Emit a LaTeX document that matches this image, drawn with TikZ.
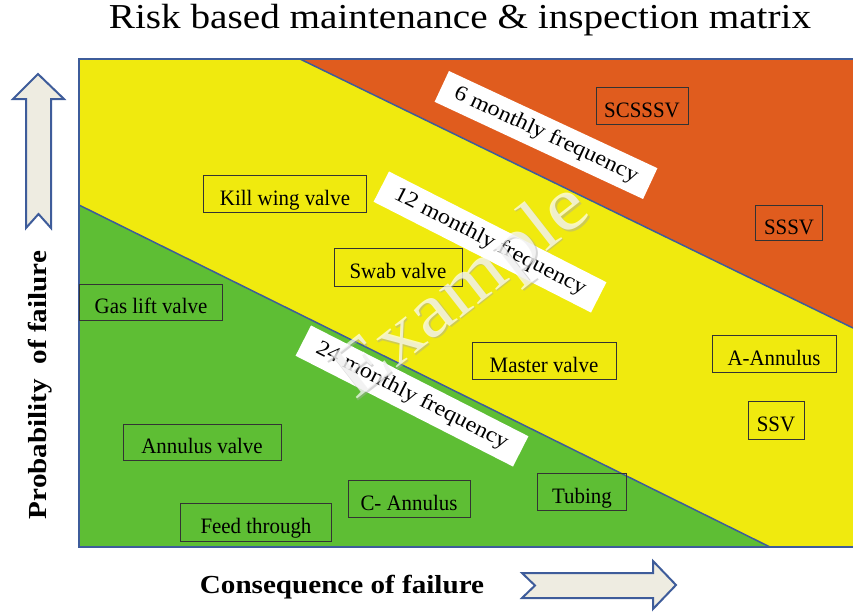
\documentclass[tikz,border=0pt]{standalone}
\usepackage{fontspec}
\setmainfont[FakeStretch=1.12]{Liberation Serif}
\newfontfamily\partfont[FakeStretch=0.95]{Liberation Serif}
\definecolor{riskyellow}{RGB}{240,234,14}
\definecolor{riskorange}{RGB}{224,92,30}
\definecolor{riskgreen}{RGB}{94,190,52}
\definecolor{frameblue}{RGB}{62,92,154}
\definecolor{arrowfill}{RGB}{238,236,225}
\tikzset{
  part/.style={draw=black!80, line width=0.8pt, inner sep=0pt, text height=22pt, text depth=0pt,
    font=\partfont\fontsize{22}{24}\selectfont},
  band/.style={fill=white, inner sep=0pt, minimum height=34pt, font=\fontsize{21.5}{23}\selectfont},
  bigarrow/.style={draw=frameblue, fill=arrowfill, line width=2pt, line join=miter}
}
\begin{document}
\begin{tikzpicture}[x=1pt, y=-1pt]
  \useasboundingbox (0,0) rectangle (853,611);
  % zones
  \fill[riskyellow] (79,59) rectangle (853,547);
  \fill[riskorange] (300,59) -- (853,59) -- (853,328) -- cycle;
  \fill[riskgreen] (79,205) -- (770,547) -- (79,547) -- cycle;
  \draw[frameblue, line width=1.5pt] (300,59) -- (853,328);
  \draw[frameblue, line width=1.5pt] (79,205) -- (770,547);
  \draw[frameblue, line width=2pt] (853,59) -- (79,59) -- (79,547) -- (853,547);

  % title and axes
  \node (title) at (460,20) {\fontsize{35}{38}\selectfont Risk based maintenance \& inspection matrix};
  \node[rotate=90, font=\fontsize{26}{28}\selectfont\bfseries] (prob) at (40,385) {Probability\ \ of failure};
  \node[font=\fontsize{26}{28}\selectfont\bfseries] (cons) at (342,587) {Consequence of failure};
  \draw[bigarrow] (38,74) -- (64,99) -- (51,99) -- (51,228) -- (38.5,214) -- (26,228) -- (26,99) -- (13,99) -- cycle;
  \draw[bigarrow] (676,585) -- (653,561) -- (653,573) -- (522,573) -- (535,585.5) -- (522,598) -- (653,598) -- (653,609) -- cycle;

  % frequency bands
  \node[band, rotate=-25, minimum width=230pt] (f6) at (546,135) {6 monthly frequency};
  \node[band, rotate=-27, minimum width=244pt] (f12) at (490,242) {12 monthly frequency};
  \node[band, rotate=-27, minimum width=244pt] (f24) at (412,396) {24 monthly frequency};

  % components
  \node[part, minimum width=92pt, minimum height=37pt] (scsssv) at (642,106) {SCSSSV};
  \node[part, minimum width=67pt, minimum height=35pt] (sssv) at (789,223) {SSSV};
  \node[part, minimum width=163pt, minimum height=37pt] (kill) at (285,194) {Kill wing valve};
  \node[part, minimum width=128pt, minimum height=38pt] (swab) at (398,267) {Swab valve};
  \node[part, minimum width=143pt, minimum height=36pt] (gaslift) at (151,302.5) {Gas lift valve};
  \node[part, minimum width=124pt, minimum height=37pt] (aann) at (774,354) {A-Annulus};
  \node[part, minimum width=56pt, minimum height=38pt] (ssv) at (776,420) {SSV};
  \node[part, minimum width=144pt, minimum height=37pt] (master) at (544,361) {Master valve};
  \node[part, minimum width=158pt, minimum height=36pt] (annv) at (202,442) {Annulus valve};
  \node[part, minimum width=89pt, minimum height=37pt] (tubing) at (582,492) {Tubing};
  \node[part, minimum width=122pt, minimum height=37pt] (cann) at (409,499) {C- Annulus};
  \node[part, minimum width=151pt, minimum height=38pt] (feed) at (256,522) {Feed through};

  % watermark, grey shadow under white letters
  \node[rotate=38, text=black!35, text opacity=0.45, font=\fontsize{76}{76}\selectfont] (markshadow) at (464.5,294.5) {Example};
  \node[rotate=38, text=white, text opacity=0.7, font=\fontsize{76}{76}\selectfont] (mark) at (463,293) {Example};
\end{tikzpicture}
\end{document}
